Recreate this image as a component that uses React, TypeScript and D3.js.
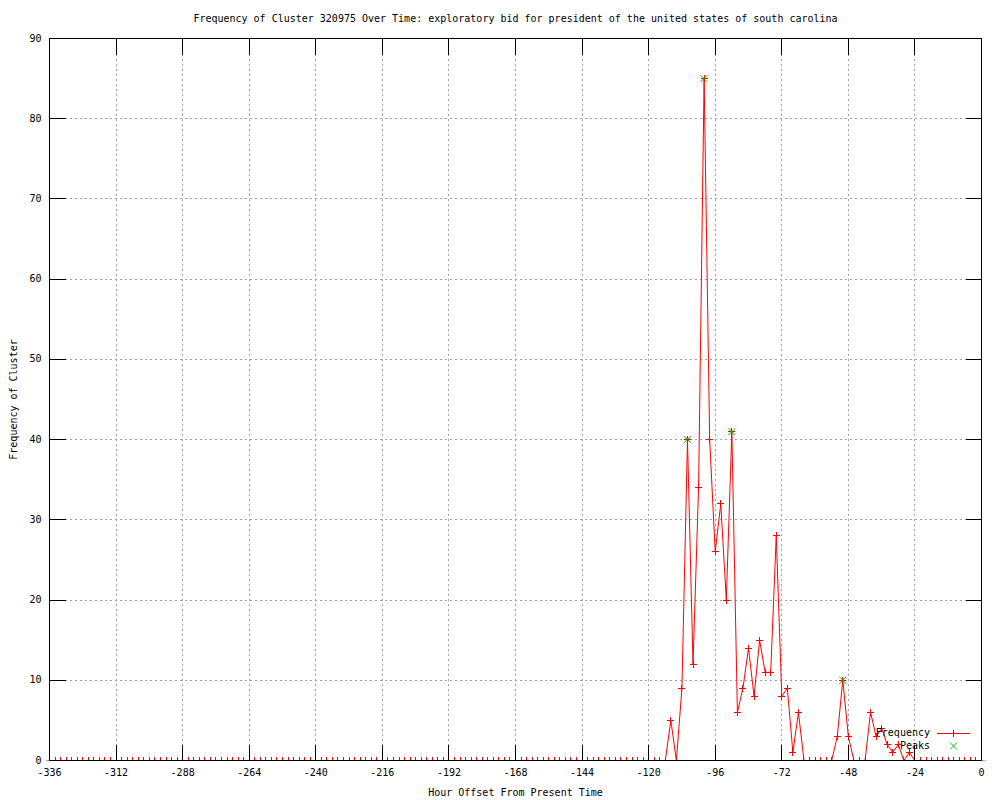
import React from 'react';
import * as d3 from 'd3';

// chart text
const titleText = 'Frequency of Cluster 320975 Over Time: exploratory bid for president of the united states of south carolina';
const xLabelText = 'Hour Offset From Present Time';
const yLabelText = 'Frequency of Cluster';

// hours run from -336 to 0 in steps of 2
const hours: number[] = d3.range(-336, 1, 2);

// one row per day (12 samples of 2 hours)
const frequency: number[] = [
  0, 0, 0, 0, 0, 0, 0, 0, 0, 0, 0, 0, // -336
  0, 0, 0, 0, 0, 0, 0, 0, 0, 0, 0, 0, // -312
  0, 0, 0, 0, 0, 0, 0, 0, 0, 0, 0, 0, // -288
  0, 0, 0, 0, 0, 0, 0, 0, 0, 0, 0, 0, // -264
  0, 0, 0, 0, 0, 0, 0, 0, 0, 0, 0, 0, // -240
  0, 0, 0, 0, 0, 0, 0, 0, 0, 0, 0, 0, // -216
  0, 0, 0, 0, 0, 0, 0, 0, 0, 0, 0, 0, // -192
  0, 0, 0, 0, 0, 0, 0, 0, 0, 0, 0, 0, // -168
  0, 0, 0, 0, 0, 0, 0, 0, 0, 0, 0, 0, // -144
  0, 0, 0, 0, 5, 0, 9, 40, 12, 34, 85, 40, // -120
  26, 32, 20, 41, 6, 9, 14, 8, 15, 11, 11, 28, // -96
  8, 9, 1, 6, 0, 0, 0, 0, 0, 0, 3, 10, // -72
  3, 0, 0, 0, 6, 3, 4, 2, 1, 2, 0, 1, // -48
  0, 0, 0, 0, 0, 0, 0, 0, 0, 0, 0, 0, // -24
  0 // 0
];

const peakHours: number[] = [-106, -100, -90, -50];
const peakValues: number[] = [40, 85, 41, 10];

const xTicks: number[] = d3.range(-336, 1, 24);
const yTicks: number[] = d3.range(0, 91, 10);

const legendNames: string[] = ['Frequency', 'Peaks'];

const font = '"DejaVu Sans Mono", monospace';

const App = () => {
  const width = 1000;
  const height = 800;
  const margin = { top: 38.5, bottom: 39.5, left: 49.5, right: 18.5 };
  const left = margin.left;
  const right = width - margin.right;
  const top = margin.top;
  const bottom = height - margin.bottom;

  const x = d3.scaleLinear().domain([-336, 0]).range([left, right]);
  const y = d3.scaleLinear().domain([0, 90]).range([bottom, top]);

  const line = d3.line<number>()
    .x((d, i) => x(hours[i]))
    .y(d => y(d));

  const tickLen = 16;
  const m = 3.5; // half marker size

  const plus = (cx: number, cy: number, color: string, key: string) => (
    <g key={key} stroke={color} strokeWidth={1} shapeRendering='crispEdges'>
      <line x1={cx - m} x2={cx + m} y1={cy} y2={cy} />
      <line x1={cx} x2={cx} y1={cy - m} y2={cy + m} />
    </g>
  );

  const cross = (cx: number, cy: number, color: string, key: string) => (
    <g key={key} stroke={color} strokeWidth={1}>
      <line x1={cx - m} x2={cx + m} y1={cy - m} y2={cy + m} />
      <line x1={cx - m} x2={cx + m} y1={cy + m} y2={cy - m} />
    </g>
  );

  return (
    <svg
      width={width}
      height={height}
      style={{ position: 'absolute', left: 0, top: 0, background: '#fff' }}
      fontFamily={font}
      fontSize={10}
    >
      <defs>
        <clipPath id='plotClip'>
          <rect x={0} y={0} width={width} height={bottom} />
        </clipPath>
      </defs>

      {/* grid */}
      <g stroke='#a0a0a0' strokeDasharray='2,3' shapeRendering='crispEdges'>
        {xTicks.slice(1, -1).map(t => (
          <line key={`gx-${t}`} x1={x(t)} x2={x(t)} y1={top} y2={bottom} />
        ))}
        {yTicks.slice(1, -1).map(t => (
          <line key={`gy-${t}`} x1={left} x2={right} y1={y(t)} y2={y(t)} />
        ))}
      </g>

      {/* data */}
      <g clipPath='url(#plotClip)'>
        <path d={line(frequency) || ''} fill='none' stroke='#ff0000' strokeWidth={1} />
        {frequency.map((d, i) => plus(x(hours[i]), y(d), '#ff0000', `p-${i}`))}
        {peakHours.map((h, i) => cross(x(h), y(peakValues[i]), '#00c000', `k-${i}`))}
      </g>

      {/* border and ticks */}
      <g stroke='#000' strokeWidth={1} shapeRendering='crispEdges'>
        <rect x={left} y={top} width={right - left} height={bottom - top} fill='none' />
        {xTicks.map(t => (
          <g key={`tx-${t}`}>
            <line x1={x(t)} x2={x(t)} y1={bottom} y2={bottom - tickLen} />
            <line x1={x(t)} x2={x(t)} y1={top} y2={top + tickLen} />
          </g>
        ))}
        {yTicks.map(t => (
          <g key={`ty-${t}`}>
            <line x1={left} x2={left + tickLen} y1={y(t)} y2={y(t)} />
            <line x1={right} x2={right - tickLen} y1={y(t)} y2={y(t)} />
          </g>
        ))}
      </g>

      {/* tick labels */}
      <g fill='#000'>
        {xTicks.map(t => (
          <text key={`lx-${t}`} x={x(t)} y={bottom + 12} textAnchor='middle' dominantBaseline='middle'>
            {t}
          </text>
        ))}
        {yTicks.map(t => (
          <text key={`ly-${t}`} x={left - 8} y={y(t)} textAnchor='end' dominantBaseline='middle'>
            {t}
          </text>
        ))}
      </g>

      {/* titles */}
      <text x={(left + right) / 2} y={19} textAnchor='middle' dominantBaseline='middle'>{titleText}</text>
      <text x={(left + right) / 2} y={793} textAnchor='middle' dominantBaseline='middle'>{xLabelText}</text>
      <text
        transform={`translate(14, ${(top + bottom) / 2}) rotate(-90)`}
        textAnchor='middle'
        dominantBaseline='middle'
      >
        {yLabelText}
      </text>

      {/* legend */}
      <g>
        <text x={930} y={733} textAnchor='end' dominantBaseline='middle'>{legendNames[0]}</text>
        <line x1={937} x2={970} y1={733.5} y2={733.5} stroke='#ff0000' strokeWidth={1} shapeRendering='crispEdges' />
        {plus(953.5, 733.5, '#ff0000', 'leg-plus')}
        <text x={930} y={746} textAnchor='end' dominantBaseline='middle'>{legendNames[1]}</text>
        {cross(953.5, 746, '#00c000', 'leg-cross')}
      </g>
    </svg>
  );
};

export default App;
